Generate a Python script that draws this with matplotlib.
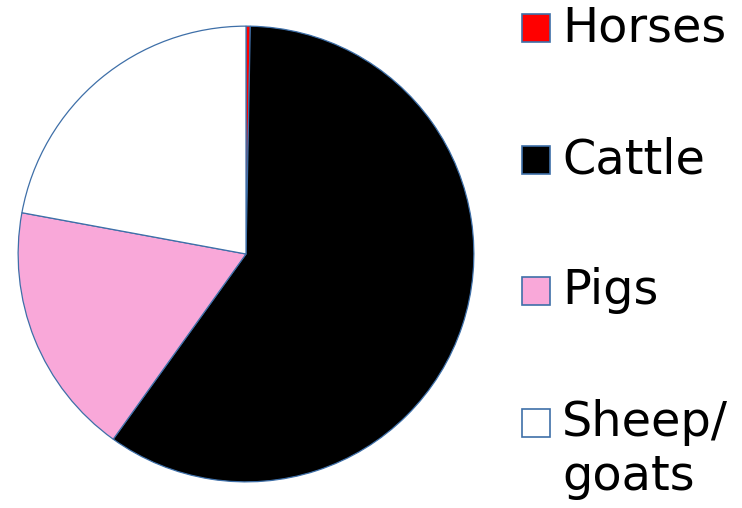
import matplotlib
matplotlib.use("Agg")
import matplotlib.pyplot as plt
from matplotlib.patches import Rectangle

categories = ["Horses", "Cattle", "Pigs", "Sheep/\ngoats"]
values = [0.3, 59.6, 18.0, 22.1]
colors = ["#FF0000", "#000000", "#F9A8D9", "#FFFFFF"]
edge = "#3E6FA8"

W, H = 742, 508
fig = plt.figure(figsize=(W / 100, H / 100), dpi=100)
cx, cy, r = 246, 254, 229
ax = fig.add_axes([(cx - r) / W, (H - cy - r) / H, 2 * r / W, 2 * r / H])
ax.pie(values, colors=colors, startangle=90, counterclock=False, radius=1,
       wedgeprops=dict(edgecolor=edge, linewidth=0.9))
ax.set_xlim(-1.005, 1.005)
ax.set_ylim(-1.005, 1.005)
ax.set_axis_off()

# legend drawn manually
row_y = [28, 160, 291, 423]
sq = 28
fs = 34.5
for lab, col, yc in zip(categories, colors, row_y):
    fig.patches.append(Rectangle((522 / W, (H - yc - sq / 2) / H), sq / W, sq / H,
                                 transform=fig.transFigure, facecolor=col,
                                 edgecolor=edge, linewidth=1.2))
    if "\n" in lab:
        fig.text(562 / W, (H - (yc - 24)) / H, lab, fontsize=fs, family="DejaVu Sans",
                 va="top", ha="left", linespacing=1.18)
    else:
        fig.text(562 / W, (H - yc) / H, lab, fontsize=fs, family="DejaVu Sans",
                 va="center", ha="left")

fig.savefig("out.png", dpi=100)
